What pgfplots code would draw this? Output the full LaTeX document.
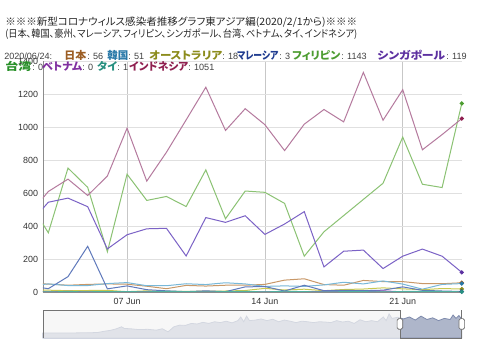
\documentclass[border=0pt]{standalone}
\usepackage{pgfplots}
\pgfplotsset{compat=1.18}
\usepackage{fontspec}
\setmainfont{Liberation Sans}
\newfontfamily\jp[RawFeature=+palt]{Noto Sans CJK JP}
% legend text colours
\definecolor{tJP}{HTML}{9C5E24}
\definecolor{tKR}{HTML}{2878A8}
\definecolor{tAU}{HTML}{8C8C1C}
\definecolor{tMY}{HTML}{203C90}
\definecolor{tPH}{HTML}{4C9C30}
\definecolor{tSG}{HTML}{5C30A0}
\definecolor{tTW}{HTML}{289028}
\definecolor{tVN}{HTML}{8030A0}
\definecolor{tTH}{HTML}{289080}
\definecolor{tID}{HTML}{902050}
% line colours
\definecolor{lJP}{HTML}{C89868}
\definecolor{lKR}{HTML}{78B8D8}
\definecolor{lAU}{HTML}{C8C850}
\definecolor{lMY}{HTML}{5F79BB}
\definecolor{lPH}{HTML}{8BC273}
\definecolor{lSG}{HTML}{7B62C6}
\definecolor{lTW}{HTML}{50A850}
\definecolor{lVN}{HTML}{9858C0}
\definecolor{lTH}{HTML}{50B0A0}
\definecolor{lID}{HTML}{B57A9E}
\definecolor{rsLine}{HTML}{7E8AAC}
\definecolor{rsFill}{HTML}{AEB6CA}

\pgfplotstableread{
day JP KR AU MY PH SG TW VN TH ID
2  52 38 10 38 552 408 0 2 1 467
3  48 49 11 20 359 544 0 0 1 609
4  41 39  8 93 751 569 0 4 2 684
5  46 39  9 277 634 517 0 0 1 585
6  49 51 10 19 244 261 1 1 3 703
7  47 57  2 37 714 347 2 1 2 993
8  35 38  7 14 555 383 0 0 1 672
9  20 38  3  7 579 386 0 0 4 847
10 40 50  4  2 518 218 0 1 2 1043
11 36 45  5  7 740 451 1 0 1 1241
12 41 56  6  2 444 422 1 0 2 979
13 41 49  9 31 612 462 0 0 4 1111
14 46 34 22 33 604 349 0 1 0 1014
15 72 37 12  6 537 412 1 0 5 857
16 80 34 17 41 217 487 0 0 2 1017
17 45 43  8  8 365 152 0 4 0 1106
18 41 59 15 10 463 247 1 1 2 1031
19 70 49 18  8 561 254 0 0 2 1331
20 63 67 25 11 659 142 0 7 0 1041
21 63 48 19 31 939 217 1 1 3 1226
22 51 17 14 10 653 260 0 2 4 862
23 50 46 21  6 633 217 0 3 3 954
24 56 51 18  3 1143 119 0 0 1 1051
}\datatable

\newcommand{\nm}[2]{\resizebox{#1}{\height}{\jp\bfseries\fontsize{8}{8}\selectfont #2}}

\begin{document}
\begin{tikzpicture}[x=0.75pt,y=-0.75pt]
\path[use as bounding box, fill=white] (0,0) rectangle (480,359);

\begin{axis}[
  at={(32.25pt,-219pt)}, anchor=south west,
  scale only axis, width=314.1pt, height=173.25pt,
  xmin=2.73, xmax=24, ymin=0, ymax=1400,
  axis lines*=left,
  axis line style={draw=black!45, line width=0.6pt},
  xtick={7,14,21}, xticklabels={07 Jun,14 Jun,21 Jun},
  ytick={0,200,...,1400},
  /pgf/number format/1000 sep={},
  /pgf/number format/assume math mode=true,
  major tick length=0pt,
  xmajorgrids, ymajorgrids,
  x grid style={draw=black!22, line width=0.6pt},
  y grid style={draw=black!12, line width=0.6pt},
  ticklabel style={font=\fontsize{6.7}{7}\selectfont, text=black!80},
  yticklabel style={inner sep=0pt, xshift=-3.5pt},
  xticklabel style={inner sep=0pt, yshift=-4.6pt},
  every axis plot/.append style={line width=0.75pt, mark=none},
]
\addplot[lJP] table[x=day,y=JP]{\datatable};
\addplot[lKR] table[x=day,y=KR]{\datatable};
\addplot[lAU] table[x=day,y=AU]{\datatable};
\addplot[lMY] table[x=day,y=MY]{\datatable};
\addplot[lPH] table[x=day,y=PH]{\datatable};
\addplot[lSG] table[x=day,y=SG]{\datatable};
\addplot[lTW] table[x=day,y=TW]{\datatable};
\addplot[lVN] table[x=day,y=VN]{\datatable};
\addplot[lTH] table[x=day,y=TH]{\datatable};
\addplot[lID] table[x=day,y=ID]{\datatable};
% highlighted points on 2020/06/24
\addplot[only marks, mark=*, mark size=1.2pt, tJP] coordinates {(24,56)};
\addplot[only marks, mark=*, mark size=1.2pt, tKR] coordinates {(24,51)};
\addplot[only marks, mark=*, mark size=1.2pt, tAU] coordinates {(24,18)};
\addplot[only marks, mark=*, mark size=1.2pt, tMY] coordinates {(24,3)};
\addplot[only marks, mark=*, mark size=1.2pt, tPH] coordinates {(24,1143)};
\addplot[only marks, mark=*, mark size=1.2pt, tSG] coordinates {(24,119)};
\addplot[only marks, mark=*, mark size=1.2pt, tTH] coordinates {(24,1)};
\addplot[only marks, mark=*, mark size=1.2pt, tID] coordinates {(24,1051)};
\end{axis}

% range selector
\begin{axis}[
  at={(32.25pt,-253.5pt)}, anchor=south west,
  scale only axis, width=314.1pt, height=21pt,
  xmin=0, xmax=144, ymin=0, ymax=1,
  axis lines=none, clip=false,
]
\fill[white] (axis cs:0,0) rectangle (axis cs:144,1);
\addplot[draw=rsLine, fill=rsFill, line width=0.6pt] coordinates {
(0,0.18)(10,0.18)(17,0.19)(19,0.2)(21,0.24)(23,0.27)(25,0.32)(27,0.40)(28,0.34)(30,0.33)
(33,0.30)(36,0.31)(39,0.28)(41,0.33)(43,0.22)(45,0.40)(47,0.46)(49,0.45)(51,0.52)(53,0.50)
(55,0.56)(57,0.52)(59,0.58)(61,0.55)(63,0.60)(65,0.54)(67,0.62)(68,0.75)(69,0.58)(70,0.78)
(71,0.62)(73,0.64)(75,0.68)(77,0.62)(79,0.67)(81,0.58)(83,0.64)(85,0.60)(87,0.55)(89,0.60)
(91,0.58)(93,0.55)(95,0.58)(97,0.57)(99,0.55)(101,0.62)(103,0.57)(105,0.60)(107,0.52)(109,0.65)
(111,0.58)(113,0.62)(115,0.58)(117,0.75)(118,0.62)(119,0.86)(120,0.70)(122,0.74)(124,0.68)(126,0.75)
(128,0.64)(130,0.78)(132,0.66)(134,0.72)(136,0.62)(138,0.70)(140,0.66)(141,0.82)(142,0.70)(143,0.80)(144,0.68)
} \closedcycle;
\fill[black!4, opacity=0.72] (axis cs:0,0) rectangle (axis cs:122.73,1);
\draw[black!55, line width=0.6pt] (axis cs:0,0) -- (axis cs:0,1) -- (axis cs:122.73,1) -- (axis cs:122.73,0) -- (axis cs:144,0) -- (axis cs:144,1);
\node[draw=black!60, fill=white, rounded corners=1.2pt, minimum width=4.2pt, minimum height=8pt, inner sep=0pt, line width=0.5pt] at (axis cs:122.73,0.5) {};
\node[draw=black!60, fill=white, rounded corners=1.2pt, minimum width=4.2pt, minimum height=8pt, inner sep=0pt, line width=0.5pt] at (axis cs:144,0.5) {};
\end{axis}

% title
\node[anchor=west, inner sep=0pt, text=black!85] at (5,22.5) {\resizebox{264pt}{\height}{\jp\fontsize{7.6}{8}\selectfont ※※※新型コロナウィルス感染者推移グラフ東アジア編(2020/2/1から)※※※}};
\node[anchor=west, inner sep=0pt, text=black!85] at (5,34) {\resizebox{264pt}{\height}{\jp\fontsize{7.6}{8}\selectfont (日本、韓国、豪州、マレーシア、フィリピン、シンガポール、台湾、ベトナム、タイ、インドネシア)}};

% legend line 1
\def\lnum{\fontsize{6.8}{7}\selectfont\color{black!75}}
\node[anchor=base west, inner sep=0pt, font=\lnum] at (4,60) {2020/06/24:};
\node[anchor=base west, inner sep=0pt, text=tJP] at (64,60) {\nm{16.5pt}{日本}};
\node[anchor=base west, inner sep=0pt, font=\lnum] at (87,60) {: 56};
\node[anchor=base west, inner sep=0pt, text=tKR] at (107,60) {\nm{15.75pt}{韓国}};
\node[anchor=base west, inner sep=0pt, font=\lnum] at (128,60) {: 51};
\node[anchor=base west, inner sep=0pt, text=tAU] at (149,60) {\nm{54.75pt}{オーストラリア}};
\node[anchor=base west, inner sep=0pt, font=\lnum] at (222,60) {: 18};
\node[anchor=base west, inner sep=0pt, text=tMY] at (237,60) {\nm{30.75pt}{マレーシア}};
\node[anchor=base west, inner sep=0pt, font=\lnum] at (279,60) {: 3};
\node[anchor=base west, inner sep=0pt, text=tPH] at (292,60) {\nm{36pt}{フィリピン}};
\node[anchor=base west, inner sep=0pt, font=\lnum] at (341,60) {: 1143};
\node[anchor=base west, inner sep=0pt, text=tSG] at (377,60) {\nm{51pt}{シンガポール}};
\node[anchor=base west, inner sep=0pt, font=\lnum] at (446,60) {: 119};
% legend line 2
\node[anchor=base west, inner sep=0pt, text=tTW] at (5,71) {\nm{19.5pt}{台湾}};
\node[anchor=base west, inner sep=0pt, font=\lnum] at (32,71) {: 0};
\node[anchor=base west, inner sep=0pt, text=tVN] at (42,71) {\nm{30pt}{ベトナム}};
\node[anchor=base west, inner sep=0pt, font=\lnum] at (82,71) {: 0};
\node[anchor=base west, inner sep=0pt, text=tTH] at (97,71) {\nm{15pt}{タイ}};
\node[anchor=base west, inner sep=0pt, font=\lnum] at (117,71) {: 1};
\node[anchor=base west, inner sep=0pt, text=tID] at (129,71) {\nm{44.25pt}{インドネシア}};
\node[anchor=base west, inner sep=0pt, font=\lnum] at (188,71) {: 1051};
\end{tikzpicture}
\end{document}
